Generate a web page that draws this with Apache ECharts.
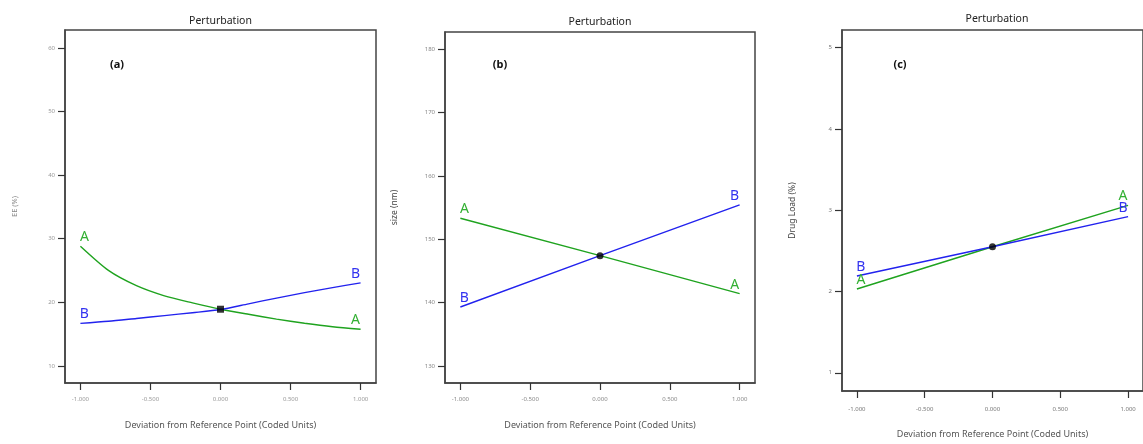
<!DOCTYPE html>
<html>
<head>
<meta charset="utf-8">
<script src="https://cdn.jsdelivr.net/npm/echarts@6/dist/echarts.min.js"></script>
<style>html,body{margin:0;padding:0;background:#fff}#chart{width:1143px;height:444px}</style>
</head>
<body>
<div id="chart"></div>
<script>
// ---- data ----
const xTickValues = [-1, -0.5, 0, 0.5, 1];
const xTickLabels = ['-1.000', '-0.500', '0.000', '0.500', '1.000'];

// panel (a) EE (%)
const xA = [-1, -0.8, -0.6, -0.4, -0.2, 0, 0.2, 0.4, 0.6, 0.8, 1];
const eeA = [28.8, 25.0, 22.6, 21.0, 19.9, 18.9, 18.1, 17.35, 16.7, 16.15, 15.75];
const eeB = [16.67, 17.0, 17.45, 17.9, 18.35, 18.85, 19.75, 20.65, 21.5, 22.3, 23.05];
const eeTicks = [10, 20, 30, 40, 50, 60];

// panel (b) size (nm)
const xB = [-1, 0, 1];
const sizeA = [153.3, 147.4, 141.4];
const sizeB = [139.3, 147.4, 155.4];
const sizeTicks = [130, 140, 150, 160, 170, 180];

// panel (c) Drug Load (%)
const xC = [-1, 0, 1];
const loadA = [2.03, 2.55, 3.06];
const loadB = [2.19, 2.55, 2.92];
const loadTicks = [1, 2, 3, 4, 5];

const refPoints = [[0, 18.9], [0, 147.4], [0, 2.55]];
const panelTags = ['(a)', '(b)', '(c)'];
const yNames = ['EE (%)', 'size (nm)', 'Drug Load (%)'];
const xName = 'Deviation from Reference Point (Coded Units)';
const titleText = 'Perturbation';

// ---- layout / style ----
const FONT = 'Noto Sans';
const GREEN = '#1fa31f', BLUE = '#2222ee';
const panels = [
  {left: 65, top: 30, width: 311, height: 353, ymin: 7.3, ymax: 62.8, ticks: eeTicks, xs: xA, a: eeA, b: eeB,
   yNameColor: '#888', yNameSize: 7.5, yNameGap: 46, tickColor: '#999', xLabelMargin: 13, xNameGap: 38,
   sym: 'rect', tagDx: 47, titleTop: 11, smooth: 0.25},
  {left: 445, top: 32, width: 310, height: 351, ymin: 127.3, ymax: 182.7, ticks: sizeTicks, xs: xB, a: sizeA, b: sizeB,
   yNameColor: '#444', yNameSize: 8.5, yNameGap: 46, tickColor: '#888', xLabelMargin: 13, xNameGap: 38,
   sym: 'circle', tagDx: 50, titleTop: 12, smooth: false},
  {left: 842, top: 30, width: 310, height: 363, ymin: 0.776, ymax: 5.216, ticks: loadTicks, xs: xC, a: loadA, b: loadB,
   yNameColor: '#444', yNameSize: 8.5, yNameGap: 45, tickColor: '#777', xLabelMargin: 15, xNameGap: 39,
   sym: 'circle', tagDx: 53, titleTop: 9, smooth: false}
];

function lineData(xs, ys) {
  const last = xs.length - 1;
  return xs.map((x, i) => {
    const item = {value: [x, ys[i]]};
    if (i === 0 || i === last) {
      item.label = {show: true, offset: [i === 0 ? 4 : -5, 0]};
    }
    return item;
  });
}

const option = {
  animation: false,
  backgroundColor: '#fff',
  title: [], grid: [], xAxis: [], yAxis: [], series: []
};

panels.forEach((p, k) => {
  const cx = p.left + p.width / 2;
  option.title.push({
    text: titleText, left: cx - 5, top: p.titleTop, textAlign: 'center',
    textStyle: {fontFamily: FONT, fontSize: 10.5, fontWeight: 'normal', color: '#222'}
  });
  option.title.push({
    text: panelTags[k], left: p.left + p.tagDx, top: 54, textAlign: 'center',
    textStyle: {fontFamily: FONT, fontSize: 11, fontWeight: 'bold', color: '#111'}
  });
  option.grid.push({
    left: p.left, top: p.top, width: p.width, height: p.height,
    show: true, borderColor: '#444', borderWidth: 1.5, backgroundColor: 'transparent'
  });
  option.xAxis.push({
    type: 'value', gridIndex: k, min: -1.11, max: 1.11,
    name: xName, nameLocation: 'middle', nameGap: p.xNameGap,
    nameTextStyle: {fontFamily: FONT, fontSize: 9, color: '#555'},
    axisLine: {show: true, onZero: false, lineStyle: {color: '#444', width: 1.5}},
    axisTick: {show: true, length: 7, customValues: xTickValues, lineStyle: {color: '#333', width: 1.2}},
    axisLabel: {show: true, customValues: xTickValues, margin: p.xLabelMargin,
      formatter: v => xTickLabels[xTickValues.indexOf(Math.round(v * 1000) / 1000)] || '',
      fontFamily: FONT, fontSize: 6, color: p.tickColor},
    splitLine: {show: false}
  });
  option.yAxis.push({
    type: 'value', gridIndex: k, min: p.ymin, max: p.ymax,
    name: yNames[k], nameLocation: 'middle', nameGap: p.yNameGap, nameRotate: 90,
    nameTextStyle: {fontFamily: FONT, fontSize: p.yNameSize, color: p.yNameColor},
    axisLine: {show: true, onZero: false, lineStyle: {color: '#444', width: 1.5}},
    axisTick: {show: true, length: 7, customValues: p.ticks, lineStyle: {color: '#333', width: 1.2}},
    axisLabel: {show: true, customValues: p.ticks, margin: 10,
      fontFamily: FONT, fontSize: 6, color: p.tickColor},
    splitLine: {show: false}
  });
  const lbl = (color) => ({show: false, position: 'top', distance: 2, formatter: '{a}',
    fontFamily: FONT, fontSize: 14, color: color});
  option.series.push({
    name: 'A', type: 'line', xAxisIndex: k, yAxisIndex: k, smooth: p.smooth,
    data: lineData(p.xs, p.a), showSymbol: true, symbol: 'circle', symbolSize: 0.1,
    lineStyle: {color: GREEN, width: 1.4}, itemStyle: {color: GREEN},
    label: lbl('#33b033'), z: 3
  });
  option.series.push({
    name: 'B', type: 'line', xAxisIndex: k, yAxisIndex: k, smooth: p.smooth,
    data: lineData(p.xs, p.b), showSymbol: true, symbol: 'circle', symbolSize: 0.1,
    lineStyle: {color: BLUE, width: 1.4}, itemStyle: {color: BLUE},
    label: lbl('#3333f0'), z: 3
  });
  option.series.push({
    type: 'scatter', xAxisIndex: k, yAxisIndex: k, data: [refPoints[k]],
    symbol: p.sym, symbolSize: 7, itemStyle: {color: '#000'}, z: 5
  });
});

const chart = echarts.init(document.getElementById('chart'), null, {renderer: 'canvas'});
chart.setOption(option);
</script>
</body>
</html>
